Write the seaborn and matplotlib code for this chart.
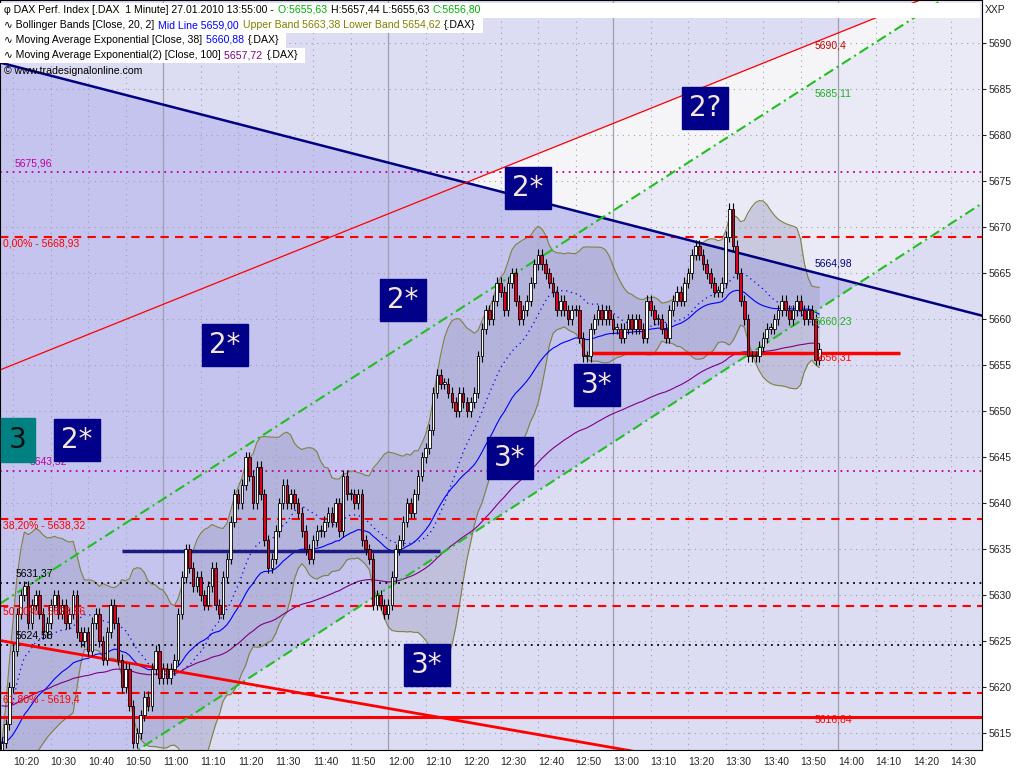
import numpy as np
import pandas as pd
import seaborn as sns
import matplotlib.pyplot as plt
from matplotlib.patches import Rectangle

# 1-minute closes, 10:17 .. 13:55
closes = [5614, 5616, 5620, 5624, 5628,
          5630, 5631, 5627, 5629, 5630, 5628,
          5626, 5627, 5629, 5630, 5628, 5629, 5627, 5628, 5630, 5626, 5625,
          5626, 5624, 5627, 5628, 5625, 5623, 5626, 5629, 5627,
          5623, 5620, 5622, 5618, 5614, 5615, 5617, 5619, 5618,
          5622, 5624, 5621, 5622, 5621, 5622, 5623,
          5628, 5632, 5635,
          5633, 5631, 5632, 5630, 5629, 5631, 5633, 5629, 5628, 5632, 5634,
          5638, 5641, 5640, 5642, 5645, 5643, 5640, 5644, 5641,
          5636, 5633, 5634, 5637, 5640,
          5642, 5640, 5641, 5640, 5639, 5637, 5635, 5634, 5636,
          5637, 5637, 5638, 5639, 5638, 5640, 5637, 5643, 5641,
          5641, 5640, 5641, 5636, 5635,
          5634, 5629, 5630, 5629, 5628, 5629, 5632, 5635,
          5636, 5638, 5640, 5639, 5641, 5643, 5645, 5646, 5648,
          5652, 5654, 5653,
          5653, 5652, 5651, 5650, 5652, 5651, 5650, 5651, 5652,
          5656, 5659, 5661, 5660, 5662, 5664, 5663, 5661,
          5664, 5665, 5662, 5660, 5661,
          5662, 5664, 5666, 5667, 5666, 5665, 5664, 5663, 5661, 5662,
          5661, 5660, 5661, 5661, 5658, 5656, 5656, 5659, 5660,
          5661, 5660, 5661, 5660, 5659, 5659, 5658, 5659, 5660, 5659, 5660, 5659, 5658, 5662, 5661,
          5660, 5660, 5659, 5658, 5661, 5662,
          5663, 5662, 5664, 5665, 5667, 5668,
          5667, 5666, 5665, 5664, 5663, 5663, 5664,
          5669, 5672, 5668, 5665,
          5662, 5660, 5656, 5656, 5656,
          5657, 5658, 5659, 5659, 5660, 5661, 5662, 5661, 5660, 5661, 5662, 5661, 5660, 5661, 5660,
          5655.6, 5656.8]
last_minute = 235  # 13:55 in minutes after 10:00

# trend lines: (minutes after 10:00, price)
blue_line = [(16.5, 5687.9), (278.4, 5660.4)]
red_thin = [(16.5, 5654.5), (261.9, 5694.7)]
green_up = [(16.5, 5629.1), (278.4, 5697.5)]
green_lo = [(16.5, 5603.5), (278.4, 5672.6)]
red_down = [(16.5, 5625.1), (176.5, 5613.7)]
navy_seg = [(49.1, 133.9), 5634.8]
red_seg = [(174.4, 256.5), 5656.31]
support = 5616.84

fib_levels = [5668.93, 5638.32, 5628.86, 5619.4]
fib_labels = ["0,00% - 5668,93", "38,20% - 5638,32", "50,00% - 5628,86", "61,80% - 5619,4"]
magenta_levels = [5675.96, 5643.52]
black_levels = [5631.37, 5624.58]

xticks = list(range(20, 280, 10))
xlabels = [f"{10 + m // 60}:{m % 60:02d}" for m in xticks]

# ---- indicators
n = len(closes)
t = np.arange(last_minute - n + 1, last_minute + 1)
df = pd.DataFrame({"t": t, "close": closes})
df["open"] = df["close"].shift(1).fillna(df["close"].iloc[0] - 1)
df["hi"] = df[["open", "close"]].max(axis=1) + 0.6
df["lo"] = df[["open", "close"]].min(axis=1) - 0.6
df["mid"] = df["close"].rolling(20, min_periods=1).mean()
sd = df["close"].rolling(20, min_periods=2).std().fillna(0)
df["up"] = df["mid"] + 2 * sd
df["dn"] = df["mid"] - 2 * sd
df["ema38"] = df["close"].ewm(span=38, adjust=False).mean()
df["ema100"] = pd.Series([5618.0] + closes[1:]).ewm(span=100, adjust=False).mean().values

sns.set_style("white")
plt.rcParams['font.family'] = ['Liberation Sans', 'DejaVu Sans']
fig = plt.figure(figsize=(10.24, 7.68), dpi=100)
ax = fig.add_axes([0, 18 / 768, 982 / 1024, 750 / 768])
ax.set_facecolor("#dcdcf2")
xmin, xmax, ymin, ymax = 16.5, 278.4, 5613.2, 5694.7
ax.set_xlim(xmin, xmax)
ax.set_ylim(ymin, ymax)

def line_at(pts, x):
    (x0, y0), (x1, y1) = pts
    return y0 + (y1 - y0) * (np.asarray(x) - x0) / (x1 - x0)

xs = np.linspace(xmin, xmax, 600)
yb, yr = line_at(blue_line, xs), line_at(red_thin, xs)
yu, yl = line_at(green_up, xs), line_at(green_lo, xs)
ax.fill_between(xs, yl, yb, where=yb > yl, color="#c4c4ee", lw=0)
ax.fill_between(xs, np.maximum(yb, yl), np.minimum(yu, yr), where=(yu > np.maximum(yb, yl)) & (xs > 120),
                color="#eaeaf6", lw=0)
ax.fill_between(xs, np.maximum(yu, yb), yr, where=yr > np.maximum(yu, yb), color="#f5f5f8", lw=0)

# grid
for m in xticks:
    ax.axvline(m, color="#a0a0b0", lw=0.9 if m % 60 == 0 else 0.8, ls="-" if m % 60 == 0 else (0, (1, 4)))
for p in range(5615, 5695, 5):
    ax.axhline(p, color="#a0a0b0", lw=0.8, ls=(0, (1, 4)))

# bollinger
ax.fill_between(df["t"], df["dn"], df["up"], color="#a0a0c4", alpha=0.45, lw=0)
ax.plot(df["t"], df["up"], color="#808040", lw=0.8)
ax.plot(df["t"], df["dn"], color="#808040", lw=0.8)
ax.plot(df["t"], df["mid"], color="#0000ff", lw=0.9, ls=(0, (1, 3)))
sns.lineplot(data=df, x="t", y="ema38", ax=ax, color="#0000ff", lw=0.8)
sns.lineplot(data=df, x="t", y="ema100", ax=ax, color="#800080", lw=0.8)

# horizontals
for lv in fib_levels:
    ax.axhline(lv, color="#ff0000", lw=1.5, ls=(0, (4, 3)))
for lv in magenta_levels:
    ax.axhline(lv, color="#c000a0", lw=1.3, ls=(0, (1, 2.5)))
for lv in black_levels:
    ax.axhline(lv, color="#000000", lw=1.3, ls=(0, (1, 2.5)))
ax.axhline(support, color="#ff0000", lw=2.2)

# trend lines
for pts, c, lw, ls in [(blue_line, "#000080", 1.8, "-"), (red_thin, "#ff0000", 0.9, "-"),
                       (green_up, "#20c020", 1.5, (0, (5, 2, 1, 2))), (green_lo, "#20c020", 1.5, (0, (5, 2, 1, 2))),
                       (red_down, "#ff0000", 2.0, "-")]:
    ax.plot([xmin, xmax], line_at(pts, [xmin, xmax]), color=c, lw=lw, ls=ls)
ax.hlines(navy_seg[1], *navy_seg[0], color="#1a1a80", lw=2.5)
ax.hlines(red_seg[1], *red_seg[0], color="#ff0000", lw=2.5)

# candles
ax.vlines(df["t"], df["lo"], df["hi"], color="black", lw=0.8, zorder=5)
for _, r in df.iterrows():
    b = min(r["open"], r["close"])
    h = max(abs(r["close"] - r["open"]), 0.15)
    fc = "white" if r["close"] >= r["open"] else "#e00020"
    ax.add_patch(Rectangle((r["t"] - 0.35, b), 0.7, h, fc=fc, ec="black", lw=0.6, zorder=6))

# axes
ax.yaxis.tick_right()
ax.set_yticks(range(5615, 5695, 5))
ax.set_yticklabels([str(p) for p in range(5615, 5695, 5)], fontsize=7.5)
ax.set_xticks(xticks)
ax.set_xticklabels(xlabels, fontsize=7.5, ha="left")
ax.tick_params(length=3, pad=2)
ax.set_xlabel("")
ax.set_ylabel("")
for s in ax.spines.values():
    s.set_color("black")
    s.set_linewidth(0.8)
fig.text(985 / 1024, 1 - 10 / 768, "XXP", fontsize=7.5, va="center")

def px(x, y, s, c="black", size=7.5, **kw):
    return fig.text(x / 1024, 1 - y / 768, s, color=c, fontsize=size, va="center", **kw)

# level labels
px(15, 163, "5675,96", "#c000a0")
px(3, 243, fib_labels[0], "#ff0000")
px(30, 462, "5643,52", "#c000a0")
px(3, 525, fib_labels[1], "#ff0000")
px(16, 573, "5631,37")
px(3, 612, fib_labels[2], "#ff0000")
px(16, 635, "5624,58")
px(3, 700, fib_labels[3], "#ff0000")
px(815, 45, "5690,4", "#c00000")
px(815, 93, "5685,11", "#20b020")
px(815, 264, "5664,98", "#000080")
px(815, 322, "5660,23", "#20b020")
px(815, 358, "5656,31", "#ff0000")
px(815, 720, "5616,84", "#ff0000")

# boxes
for x, y, s in [(705, 108, "2?"), (528, 188, "2*"), (403, 300, "2*"), (225, 345, "2*"), (77, 440, "2*"),
                (597, 385, "3*"), (510, 458, "3*"), (427, 665, "3*")]:
    px(x, y, s, "#f4e6d8", 20, ha="center", family="DejaVu Sans",
       bbox=dict(boxstyle="square,pad=0.25", fc="#000088", ec="#000088"))
px(18, 440, "3", "#101010", 20, ha="center", family="DejaVu Sans",
   bbox=dict(boxstyle="square,pad=0.3", fc="#008080", ec="#008080"))

# legend header: pieces chained left to right
header = [
    (10, [("\u03c6 DAX Perf. Index [.DAX  1 Minute] 27.01.2010 13:55:00 - ", "black"), ("O:5655,63 ", "#00b000"),
          ("H:5657,44 L:5655,63 ", "black"), ("C:5656,80", "#00b000")]),
    (25, [("\u223f Bollinger Bands [Close, 20, 2] ", "black"), ("Mid Line 5659,00 ", "#0000ff"),
          ("Upper Band 5663,38 Lower Band 5654,62 ", "#808000"), ("{.DAX}", "black")]),
    (40, [("\u223f Moving Average Exponential [Close, 38] ", "black"), ("5660,88 ", "#0000ff"), ("{.DAX}", "black")]),
    (55, [("\u223f Moving Average Exponential(2) [Close, 100] ", "black"), ("5657,72 ", "#800080"), ("{.DAX}", "black")]),
]
rend = fig.canvas.get_renderer()
for y, parts in header:
    x = 4
    for s, c in parts:
        tx = px(x, y, s, c, 7.6, zorder=10)
        x += tx.get_window_extent(rend).width + 1
    w = 980 if y == 10 else x + 6
    fig.patches.append(Rectangle((0, 1 - (y + 7.5) / 768), w / 1024, 15 / 768, transform=fig.transFigure,
                                 fc="white", ec="none", zorder=9))
px(4, 71, "\u00a9 www.tradesignalonline.com", size=7.6, zorder=10)

fig.savefig("out.png", dpi=100, facecolor="white")
